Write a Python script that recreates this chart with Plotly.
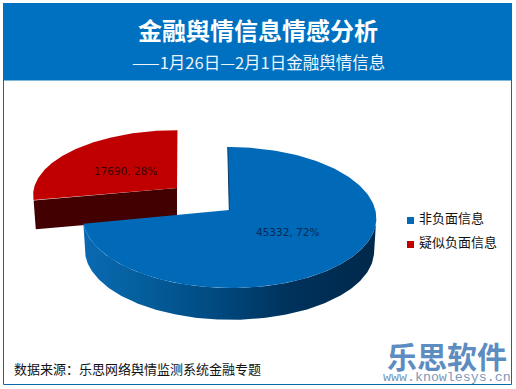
import math
import plotly.graph_objects as go

# ---- data ----
categories = ["非负面信息", "疑似负面信息"]
values = [45332, 17690]
title_text = "金融舆情信息情感分析"
subtitle_text = "——1月26日—2月1日金融舆情信息"
source_text = "数据来源：乐思网络舆情监测系统金融专题"
logo_text = "乐思软件"
logo_url = "www.knowlesys.cn"

# ---- style / projection settings ----
W, H = 516, 389
BLUE, RED = "#0069B8", "#C00000"
RED_SIDE = "#420000"
CJK = "Noto Sans CJK SC"
P = 0.106  # perspective strength
BLUE_GEO = dict(cx=229.3, cy=210, R=146, Rt=69.7, skew=-1.7, depth=33)
RED_GEO = dict(cx=177, cy=188, R=143, Rt=64, skew=0.5, depth=29)
SHRINK = 0.985


def pt(theta, g, bottom=False):
    t = math.radians(theta)
    s = 1 / (1 + P * math.cos(t))
    k = SHRINK if bottom else 1.0
    x = g["cx"] + k * (g["R"] * math.sin(t) + g["skew"] * math.cos(t)) * s
    y = g["cy"] - k * g["Rt"] * math.cos(t) * s + (g["depth"] if bottom else 0)
    return x, y


def arc(a, b, g, bottom=False, n=180):
    pts = [pt(a + (b - a) * i / n, g, bottom) for i in range(n + 1)]
    return [p[0] for p in pts], [p[1] for p in pts]


def apex(g, bottom=False):
    return g["cx"], g["cy"] + (g["depth"] if bottom else 0)


total = sum(values)
split = 360 * values[0] / total

fig = go.Figure()


def poly(xs, ys, color=None, **kw):
    fig.add_trace(go.Scatter(x=xs, y=ys, mode="lines", fill="toself",
                             fillcolor=color, line=dict(width=0, color=color or "rgba(0,0,0,0)"),
                             hoverinfo="skip", showlegend=False, **kw))


# red slice: near cut face, then top
ax, ay = apex(RED_GEO)
bx, by = apex(RED_GEO, True)
lx, ly = pt(split, RED_GEO)
lbx, lby = pt(split, RED_GEO, True)
poly([lx, ax, bx, lbx, lx], [ly, ay, by, lby, ly], RED_SIDE)
xs, ys = arc(split, 360, RED_GEO)
poly([ax] + xs + [ax], [ay] + ys + [ay], RED)

# blue slice: outer wall, cut-face sliver, top
tangent = math.degrees(math.acos(-P))
tx, ty = arc(tangent, split, BLUE_GEO)
bx2, by2 = arc(tangent, split, BLUE_GEO, True)
poly(tx + bx2[::-1] + [tx[0]], ty + by2[::-1] + [ty[0]],
     fillgradient=dict(type="horizontal", colorscale=[
         [0.0, "#0A69B3"], [0.18, "#05609F"], [0.45, "#004A80"],
         [0.7, "#00325C"], [1.0, "#00284A"]]))
ax, ay = apex(BLUE_GEO)
xs, ys = arc(0, split, BLUE_GEO)
poly([ax] + xs + [ax], [ay] + ys + [ay], BLUE)
fig.add_trace(go.Scatter(x=[xs[0], ax], y=[ys[0], ay], mode="lines",
                         line=dict(color="#0B3A66", width=1),
                         hoverinfo="skip", showlegend=False))

# legend squares
legend_x = [410.5, 410.5]
legend_y = [220.5, 244.5]
fig.add_trace(go.Scatter(x=legend_x, y=legend_y, mode="markers",
                         marker=dict(symbol="square", size=7, color=[BLUE, RED]),
                         hoverinfo="skip", showlegend=False))

# ---- text ----
anns = []


def text(x, y, s, size, color, family=CJK, anchor="center", bold=False):
    anns.append(dict(x=x, y=y, xref="x", yref="y", text=f"<b>{s}</b>" if bold else s,
                     showarrow=False, xanchor=anchor, yanchor="middle",
                     font=dict(size=size, color=color, family=family)))


text(258, 29, title_text, 24, "#FFFFFF", bold=True)
text(258.5, 62, subtitle_text, 16.5, "#EEF5FB")
text(125.5, 170.5, f"{values[1]}, {round(100 * values[1] / total)}%", 10.5, "#3A0000", "DejaVu Sans")
text(287.5, 232, f"{values[0]}, {round(100 * values[0] / total)}%", 10.5, "#0A2A55", "DejaVu Sans")
text(417, 217, categories[0], 13, "#111111", anchor="left")
text(417, 241, categories[1], 13, "#111111", anchor="left")
text(11.5, 368, source_text, 13, "#111111", anchor="left")
text(447, 354.5, logo_text, 30, "#5C8CC0", bold=True)
text(447, 377.5, logo_url, 13.3, "#7C99B8", "Liberation Mono")

shapes = [
    dict(type="rect", xref="x", yref="y", x0=3.5, x1=511.5, y0=3.5, y1=384.5,
         line=dict(color="#0A6AA8", width=1), fillcolor="#FFFFFF", layer="below"),
    dict(type="rect", xref="x", yref="y", x0=3, x1=512, y0=3, y1=80.5,
         line=dict(width=0), fillcolor="#0070C0", layer="below"),
]

fig.update_layout(
    width=W, height=H, autosize=False, margin=dict(l=0, r=0, t=0, b=0),
    paper_bgcolor="#FFFFFF", plot_bgcolor="#FFFFFF", showlegend=False,
    xaxis=dict(range=[0, W], visible=False, fixedrange=True),
    yaxis=dict(range=[H, 0], visible=False, fixedrange=True),
    shapes=shapes, annotations=anns,
)
fig.write_html("out.html", post_script="document.body.style.margin='0';document.body.style.overflow='hidden';",
               config=dict(displayModeBar=False))
